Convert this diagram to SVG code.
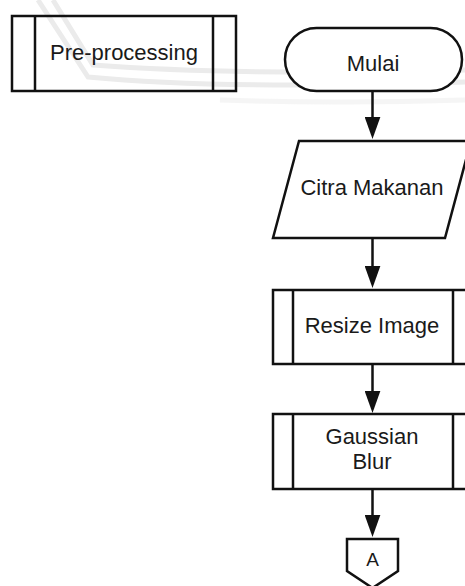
<svg xmlns="http://www.w3.org/2000/svg" width="465" height="586" viewBox="0 0 465 586">
<style>
.shape{fill:#ffffff;stroke:#111111;stroke-width:2.5}
.open{fill:none}
.edge{fill:none;stroke:#111111;stroke-width:2.5}
.lbl{font-family:"Liberation Sans",Arial,sans-serif;font-size:22px;fill:#1a1a1a;text-anchor:middle}
.wm{fill:none;stroke:#ebebeb;stroke-width:5}
</style>
<defs>
<marker id="arrow" markerUnits="userSpaceOnUse" markerWidth="22" markerHeight="16" viewBox="0 0 21 15" refX="0" refY="7.5" orient="auto">
<path d="M0,0 L21,7.5 L0,15 z" fill="#111111"/>
</marker>
</defs>
<rect width="465" height="586" fill="#ffffff"/>
<g id="watermark">
<path class="wm" d="M38,0 L88,77 Q220,90 465,82"/>
<path class="wm" d="M53,0 L93,65 Q240,76 465,70"/>
<path class="wm" d="M220,100 Q340,104 465,100" stroke-width="9" opacity="0.5"/>
</g>
<g id="preprocessing">
<rect class="shape open" x="12" y="16" width="224" height="75"/>
<line class="edge" x1="35" y1="16" x2="35" y2="91"/>
<line class="edge" x1="213" y1="16" x2="213" y2="91"/>
<text class="lbl" x="124" y="60">Pre-processing</text>
</g>
<g id="mulai">
<rect class="shape" x="285" y="28" width="177" height="63" rx="31.5" ry="31.5"/>
<text class="lbl" x="373" y="71">Mulai</text>
</g>
<g id="citra">
<polygon class="shape" points="299,141 471,141 445,238 273,238"/>
<text class="lbl" x="372" y="195">Citra Makanan</text>
</g>
<g id="resize">
<rect class="shape" x="273" y="290" width="200" height="74"/>
<line class="edge" x1="293" y1="290" x2="293" y2="364"/>
<line class="edge" x1="453" y1="290" x2="453" y2="364"/>
<text class="lbl" x="372" y="333">Resize Image</text>
</g>
<g id="gaussian">
<rect class="shape" x="273" y="414" width="200" height="75"/>
<line class="edge" x1="293" y1="414" x2="293" y2="489"/>
<line class="edge" x1="453" y1="414" x2="453" y2="489"/>
<text class="lbl" x="372" y="443.5">Gaussian</text>
<text class="lbl" x="372" y="469">Blur</text>
</g>
<g id="connectorA">
<polygon class="shape" points="347,539 398,539 398,571 372.5,588 347,571"/>
<text class="lbl" x="372.5" y="566" style="font-size:19px">A</text>
</g>
<g id="connectors">
<line class="edge" x1="372.5" y1="91" x2="372.5" y2="117" marker-end="url(#arrow)"/>
<line class="edge" x1="372.5" y1="238" x2="372.5" y2="266" marker-end="url(#arrow)"/>
<line class="edge" x1="372.5" y1="364" x2="372.5" y2="391" marker-end="url(#arrow)"/>
<line class="edge" x1="372.5" y1="489" x2="372.5" y2="515" marker-end="url(#arrow)"/>
</g>
</svg>
